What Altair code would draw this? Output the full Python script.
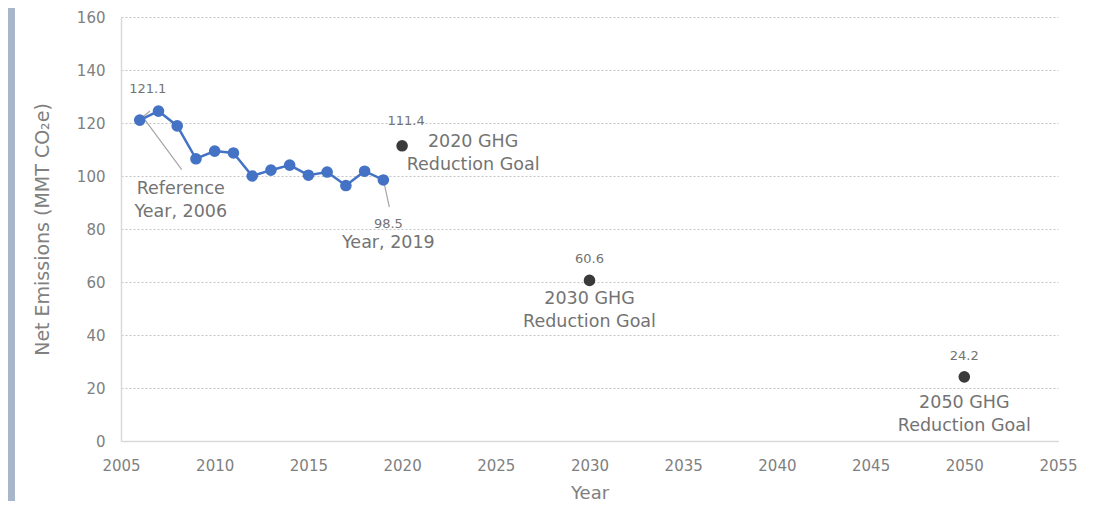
import altair as alt
import pandas as pd

# ---- data ----
years = [2006, 2007, 2008, 2009, 2010, 2011, 2012, 2013, 2014, 2015, 2016, 2017, 2018, 2019]
emissions = [121.1, 124.5, 118.9, 106.5, 109.4, 108.7, 100.0, 102.2, 104.1, 100.3, 101.5, 96.4, 101.8, 98.5]

goal_years = [2020, 2030, 2050]
goal_values = [111.4, 60.6, 24.2]
goal_names = ["2020 GHG", "2030 GHG", "2050 GHG"]

x_ticks = list(range(2005, 2056, 5))
y_ticks = list(range(0, 161, 20))

hist = pd.DataFrame({"Year": years, "Emissions": emissions})
goals = pd.DataFrame({"Year": goal_years, "Emissions": goal_values, "Name": goal_names})

FONT = "DejaVu Sans"
TXT = "#737373"
TICK = "#808080"
W, H = 937, 424

xs = alt.Scale(domain=[2005, 2055], nice=False, zero=False)
ys = alt.Scale(domain=[0, 160], nice=False)

x_axis = alt.Axis(values=x_ticks, format="d", title="Year", grid=False, ticks=False,
                  domain=True, domainColor="#d9d9d9", domainWidth=1.5,
                  labelFont=FONT, labelFontSize=15, labelColor=TICK, labelPadding=17,
                  labelFlush=False, labelOverlap=False,
                  titleFont=FONT, titleFontSize=18, titleColor=TICK, titleFontWeight="normal",
                  titlePadding=11)
y_axis = alt.Axis(values=y_ticks, title="Net Emissions (MMT CO\u2082e)", grid=True,
                  gridColor="#c4c4c4", gridDash=[2, 2], gridWidth=1,
                  ticks=False, domain=True, domainColor="#d9d9d9", domainWidth=1.5,
                  labelFont=FONT, labelFontSize=15, labelColor=TICK, labelPadding=16,
                  titleFont=FONT, titleFontSize=19, titleColor=TICK, titleFontWeight="normal",
                  titlePadding=24)

X = alt.X("Year:Q", scale=xs, axis=x_axis)
Y = alt.Y("Emissions:Q", scale=ys, axis=y_axis)

# left decorative bar
bar = alt.Chart(pd.DataFrame({"a": [0]})).mark_rect(color="#a7b6c9").encode(
    x=alt.value(-113), x2=alt.value(-106), y=alt.value(-9), y2=alt.value(H + 60)
)

line = alt.Chart(hist).mark_line(color="#4472C4", strokeWidth=2.5).encode(x=X, y=Y)
pts = alt.Chart(hist).mark_point(filled=True, size=135, color="#4472C4", opacity=1).encode(x=X, y=Y)
gpts = alt.Chart(goals).mark_point(filled=True, size=135, color="#3a3a3a", opacity=1).encode(x=X, y=Y)

def txt(df, text, dx=0, dy=0, align="center", size=17.5):
    return alt.Chart(df).mark_text(font=FONT, fontSize=size, color=TXT, dx=dx, dy=dy,
                                   align=align, baseline="middle").encode(
        x=X, y=Y, text=alt.value(text))

first = hist.iloc[[0]]
last = hist.iloc[[-1]]
g20 = goals.iloc[[0]]
g30 = goals.iloc[[1]]
g50 = goals.iloc[[2]]

labels = [
    txt(first, "121.1", dx=8, dy=-31, size=13),
    txt(first, "Reference", dx=41, dy=69),
    txt(first, "Year, 2006", dx=41, dy=92),
    txt(last, "98.5", dx=5, dy=44, size=13),
    txt(last, "Year, 2019", dx=5, dy=63),
    txt(g20, f"{goal_values[0]}", dx=4, dy=-25, size=13),
    txt(g20, "2020 GHG", dx=71, dy=-4),
    txt(g20, "Reduction Goal", dx=71, dy=19),
    txt(g30, f"{goal_values[1]}", dx=0, dy=-21, size=13),
    txt(g30, "2030 GHG", dx=0, dy=19),
    txt(g30, "Reduction Goal", dx=0, dy=42),
    txt(g50, f"{goal_values[2]}", dx=0, dy=-21, size=13),
    txt(g50, "2050 GHG", dx=0, dy=26),
    txt(g50, "Reduction Goal", dx=0, dy=49),
]

# leader lines (in data coordinates)
leaders = pd.DataFrame({
    "x1": [2005.98, 2006.3, 2019.03],
    "y1": [121.2, 121.0, 97.7],
    "x2": [2006.55, 2008.24, 2019.32],
    "y2": [124.5, 102.4, 88.3],
})
lead = alt.Chart(leaders).mark_rule(color="#a6a6a6", strokeWidth=1.2).encode(
    x=alt.X("x1:Q", scale=xs, axis=x_axis), y=alt.Y("y1:Q", scale=ys, axis=y_axis),
    x2="x2:Q", y2="y2:Q")

chart = alt.LayerChart(
    layer=[bar, line, lead, pts, gpts, *labels],
    view=alt.ViewBackground(stroke="transparent", strokeWidth=0),
).properties(
    width=W, height=H,
    padding={"left": 113, "top": 9, "right": 39, "bottom": 60},
    autosize=alt.AutoSizeParams(type="none"),
).configure_view(stroke="transparent", strokeWidth=0).configure(background="white")

chart.save("out.html", embed_options={"renderer": "svg", "actions": False})
